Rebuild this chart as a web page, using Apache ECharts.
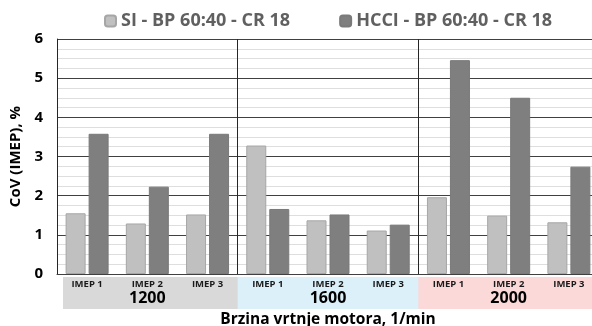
<!DOCTYPE html>
<html><head><meta charset="utf-8">
<script src="https://cdn.jsdelivr.net/npm/echarts@6/dist/echarts.min.js"></script>
<style>html,body{margin:0;padding:0;background:#fff}#c{width:592px;height:326px}</style>
</head><body><div id="c"></div>
<script>
const categories = ['IMEP 1','IMEP 2','IMEP 3','IMEP 1','IMEP 2','IMEP 3','IMEP 1','IMEP 2','IMEP 3'];
const groups = ['1200','1600','2000'];
const siValues = [1.55, 1.29, 1.52, 3.28, 1.37, 1.11, 1.96, 1.49, 1.32];
const hcciValues = [3.58, 2.23, 3.58, 1.66, 1.52, 1.26, 5.46, 4.50, 2.74];
const yTicks = [0,1,2,3,4,5,6];
const seriesNames = ['SI - BP 60:40 - CR 18','HCCI - BP 60:40 - CR 18'];
const bandColors = ['#d9d9d9','#dbf0f8','#fbd9d9'];

const FONT = 'Open Sans';
const chart = echarts.init(document.getElementById('c'), null, {renderer:'canvas'});
chart.setOption({
  animation:false,
  textStyle:{fontFamily:FONT},
  legend:{
    top:7, left:99, itemWidth:11, itemHeight:11, itemGap:49,
    textStyle:{fontFamily:FONT, fontWeight:'bold', fontSize:18, color:'#606060'},
    data:seriesNames
  },
  grid:{left:57, top:39, right:-7, bottom:52, containLabel:false, outerBoundsMode:'none'},
  xAxis:[{
    type:'category', data:categories, position:'bottom',
    axisLine:{show:true, lineStyle:{color:'#404040', width:1}},
    axisTick:{show:false},
    axisLabel:{fontFamily:FONT, fontWeight:'bold', fontSize:9.5, color:'#1a1a1a', margin:5, interval:0},
    name:'Brzina vrtnje motora, 1/min', nameLocation:'middle', nameGap:38,
    nameTextStyle:{fontFamily:FONT, fontWeight:'bold', fontSize:15.5, color:'#000'},
    z:5
  },{
    type:'category', data:groups, position:'bottom',
    axisLine:{show:false}, axisTick:{show:false},
    axisLabel:{fontFamily:FONT, fontWeight:'bold', fontSize:16, color:'#000', margin:16, interval:0},
    splitLine:{show:true, lineStyle:{color:'#262626', width:1}},
    z:5
  }],
  yAxis:{
    type:'value', min:yTicks[0], max:yTicks[yTicks.length-1], interval:1,
    axisLine:{show:true, lineStyle:{color:'#404040', width:1}},
    axisTick:{show:false},
    axisLabel:{fontFamily:FONT, fontWeight:'bold', fontSize:15, color:'#000', margin:14},
    splitLine:{show:true, lineStyle:{color:'#404040', width:1}},
    minorTick:{show:false, splitNumber:4},
    minorSplitLine:{show:true, lineStyle:{color:'#dedede', width:1}},
    name:'CoV (IMEP), %', nameLocation:'middle', nameGap:32, nameRotate:90,
    nameTextStyle:{fontFamily:FONT, fontWeight:'bold', fontSize:15, color:'#000'}
  },
  series:[{
    name:seriesNames[0], type:'bar', data:siValues, barWidth:20, barGap:'15%',
    itemStyle:{color:'#c0c0c0', borderColor:'#a6a6a6', borderWidth:1}
  },{
    name:seriesNames[1], type:'bar', data:hcciValues, barWidth:20, barGap:'15%',
    itemStyle:{color:'#7f7f7f', borderColor:'#7a7a7a', borderWidth:1}
  }]
});

const p0 = chart.convertToPixel({xAxisIndex:1}, 0);
const p1 = chart.convertToPixel({xAxisIndex:1}, 1);
const bw = p1 - p0;
const yZero = chart.convertToPixel({yAxisIndex:0}, 0);
const rects = groups.map((g,i)=>{
  let x0 = p0 + (i-0.5)*bw;
  if(i===0) x0 += 6;
  let x1 = p0 + (i+0.5)*bw;
  if(i<2) x1 += 4;
  return {type:'rect', z:-1, silent:true,
    shape:{x:x0, y:yZero+3, width:x1-x0, height:32},
    style:{fill:bandColors[i]}};
});
chart.setOption({graphic:rects});
</script>
</body></html>
